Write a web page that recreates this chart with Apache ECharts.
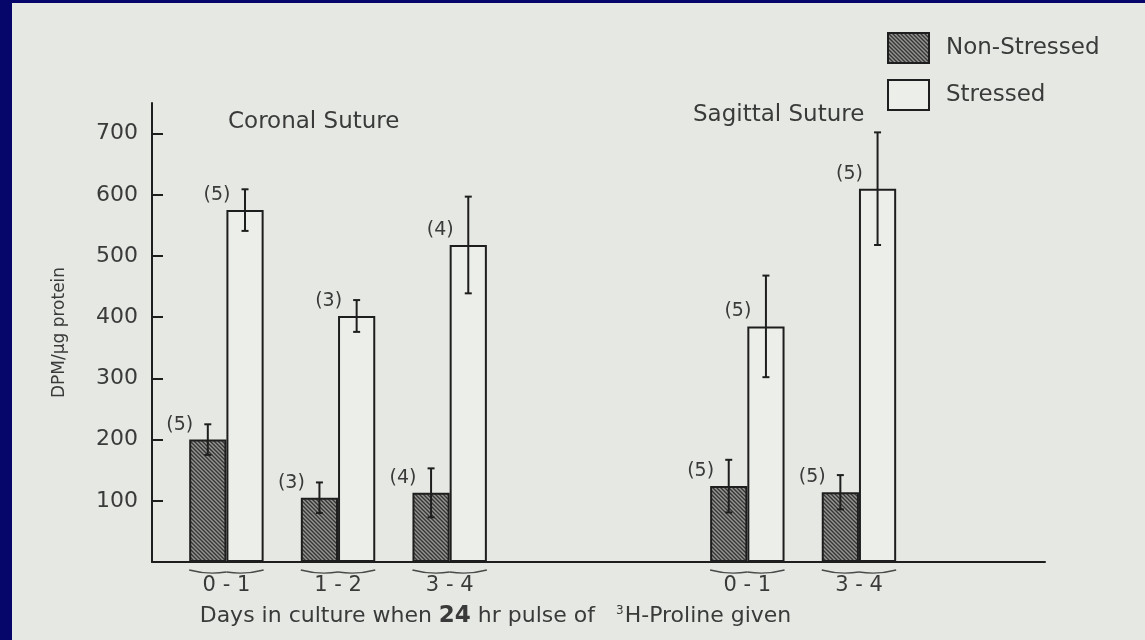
<!DOCTYPE html>
<html>
<head>
<meta charset="utf-8">
<script src="https://cdn.jsdelivr.net/npm/echarts@6/dist/echarts.min.js"></script>
<style>
  html, body { margin: 0; padding: 0; width: 1145px; height: 640px; overflow: hidden; background: #06066a; }
  #chart { position: absolute; left: 12px; top: 3px; width: 1133px; height: 637px; }
</style>
</head>
<body>
<div id="chart"></div>
<script>
// Slots along the day axis; empty slots are spacing between groups.
const xSlots = ['', '', '0 - 1', '', '', '1 - 2', '', '', '3 - 4', '', '', '', '', '', '', '',
                '0 - 1', '', '', '3 - 4', '', '', '', '', ''];
const yTicks = [100, 200, 300, 400, 500, 600, 700];
const sutureNames = ['Coronal Suture', 'Sagittal Suture'];
const seriesNames = ['Non-Stressed', 'Stressed'];

// Mean DPM/ug protein, error (±) and sample size per group
const nonStressed    = [200, 105, 113, 124, 114];
const nonStressedErr = [25, 25, 40, 43, 28];
const nonStressedN   = [5, 3, 4, 5, 5];
const stressed       = [575, 402, 518, 385, 610];
const stressedErr    = [34, 26, 79, 83, 92];
const stressedN      = [5, 3, 4, 5, 5];

const FONT = "'DejaVu Sans', 'Liberation Sans', sans-serif";
const INK = '#1e1e1e';
const TEXT = '#3a3a3a';

const groupSlots = xSlots.map((l, i) => (l ? i : -1)).filter(i => i >= 0);

function hatchPattern() {
  const c = document.createElement('canvas');
  c.width = 4; c.height = 4;
  const g = c.getContext('2d');
  g.fillStyle = '#959692';
  g.fillRect(0, 0, 4, 4);
  g.strokeStyle = '#363636';
  g.lineWidth = 1.4;
  g.beginPath();
  g.moveTo(-1, -1); g.lineTo(5, 5);
  g.moveTo(-1, 3); g.lineTo(1, 5);
  g.moveTo(3, -1); g.lineTo(5, 1);
  g.stroke();
  return c;
}

const errData = [];
groupSlots.forEach((s, i) => {
  errData.push([s, nonStressed[i], nonStressedErr[i], nonStressedN[i], -1]);
  errData.push([s, stressed[i], stressedErr[i], stressedN[i], 1]);
});

const chart = echarts.init(document.getElementById('chart'));
chart.setOption({
  backgroundColor: '#e6e9e3',
  animation: false,
  grid: { left: 140, top: 100, right: 100, bottom: 78 },
  legend: {
    data: seriesNames,
    orient: 'vertical',
    left: 875, top: 29,
    padding: 0,
    itemWidth: 41, itemHeight: 30, itemGap: 15,
    icon: 'rect',
    textStyle: { fontFamily: FONT, fontSize: 23, color: TEXT, padding: [0, 0, 0, 12] }
  },
  graphic: [
    { type: 'text', left: 216, top: 108, style: { text: sutureNames[0], font: '23px ' + FONT, fill: TEXT } },
    { type: 'text', left: 681, top: 101, style: { text: sutureNames[1], font: '23px ' + FONT, fill: TEXT } }
  ],
  xAxis: {
    type: 'category',
    data: xSlots,
    boundaryGap: false,
    axisLine: { lineStyle: { color: INK, width: 2 } },
    axisTick: { show: false },
    axisLabel: { interval: 0, fontFamily: FONT, fontSize: 21, color: TEXT, margin: 13 },
    name: '{t|Days in culture when }{b|24}{t| hr pulse of   }{s|3}{t|H-Proline given}',
    nameLocation: 'middle',
    nameGap: 43,
    nameTextStyle: {
      padding: [0, 206, 0, 0],
      rich: {
        t: { fontFamily: FONT, fontSize: 22, color: TEXT },
        b: { fontFamily: FONT, fontSize: 23, fontWeight: 'bold', color: TEXT },
        s: { fontFamily: FONT, fontSize: 12, color: TEXT, padding: [0, 1, 11, 0] }
      }
    }
  },
  yAxis: {
    type: 'value',
    min: 0, max: 750, interval: 100,
    axisLine: { show: true, lineStyle: { color: INK, width: 2 } },
    axisTick: { show: true, inside: true, length: 11, customValues: yTicks, lineStyle: { color: INK, width: 2 } },
    axisLabel: { customValues: yTicks, fontFamily: FONT, fontSize: 22, color: TEXT, margin: 14 },
    splitLine: { show: false },
    name: 'DPM/μg protein',
    nameLocation: 'middle',
    nameGap: 84,
    nameTextStyle: { fontFamily: FONT, fontSize: 17, color: TEXT }
  },
  series: [
    {
      name: seriesNames[0],
      type: 'bar',
      barWidth: '100%',
      barGap: '0%',
      data: groupSlots.map((s, i) => [s, nonStressed[i]]),
      itemStyle: { color: { image: hatchPattern(), repeat: 'repeat' }, borderColor: INK, borderWidth: 2 }
    },
    {
      name: seriesNames[1],
      type: 'bar',
      barWidth: '100%',
      barGap: '0%',
      data: groupSlots.map((s, i) => [s, stressed[i]]),
      itemStyle: { color: '#eceee9', borderColor: INK, borderWidth: 2 }
    },
    {
      name: 'error',
      type: 'custom',
      z: 5,
      data: errData,
      renderItem(params, api) {
        const slot = api.value(0), mean = api.value(1), err = api.value(2), n = api.value(3), side = api.value(4);
        const unit = api.size([1, 0])[0];
        const base = api.coord([slot, mean]);
        const x = base[0] + side * unit / 2;
        const yTop = api.coord([slot, mean + err])[1];
        const yBot = api.coord([slot, mean - err])[1];
        const cap = 3.5;
        const st = { stroke: INK, lineWidth: 2 };
        return {
          type: 'group',
          children: [
            { type: 'line', shape: { x1: x, y1: yTop, x2: x, y2: yBot }, style: st },
            { type: 'line', shape: { x1: x - cap, y1: yTop, x2: x + cap, y2: yTop }, style: st },
            { type: 'line', shape: { x1: x - cap, y1: yBot, x2: x + cap, y2: yBot }, style: st },
            {
              type: 'text',
              style: {
                text: '(' + n + ')', x: x - unit / 2 + 4, y: base[1] - 15,
                align: 'right', verticalAlign: 'middle',
                font: '19px ' + FONT, fill: TEXT
              }
            }
          ]
        };
      }
    },
    {
      name: 'brace',
      type: 'custom',
      data: groupSlots.map(s => [s, 0]),
      renderItem(params, api) {
        const unit = api.size([1, 0])[0];
        const p = api.coord([api.value(0), 0]);
        const x0 = p[0] - unit, x1 = p[0] + unit, mid = p[0];
        const y = p[1] + 10;
        const st = { stroke: '#4a4a4a', lineWidth: 1.4, fill: null };
        return {
          type: 'group',
          children: [
            { type: 'bezierCurve', shape: { x1: x0, y1: y - 2, x2: mid, y2: y, cpx1: x0 + unit * 0.5, cpy1: y + 3 }, style: st },
            { type: 'bezierCurve', shape: { x1: mid, y1: y, x2: x1, y2: y - 2, cpx1: x1 - unit * 0.5, cpy1: y + 3 }, style: st }
          ]
        };
      }
    }
  ]
});
</script>
</body>
</html>
